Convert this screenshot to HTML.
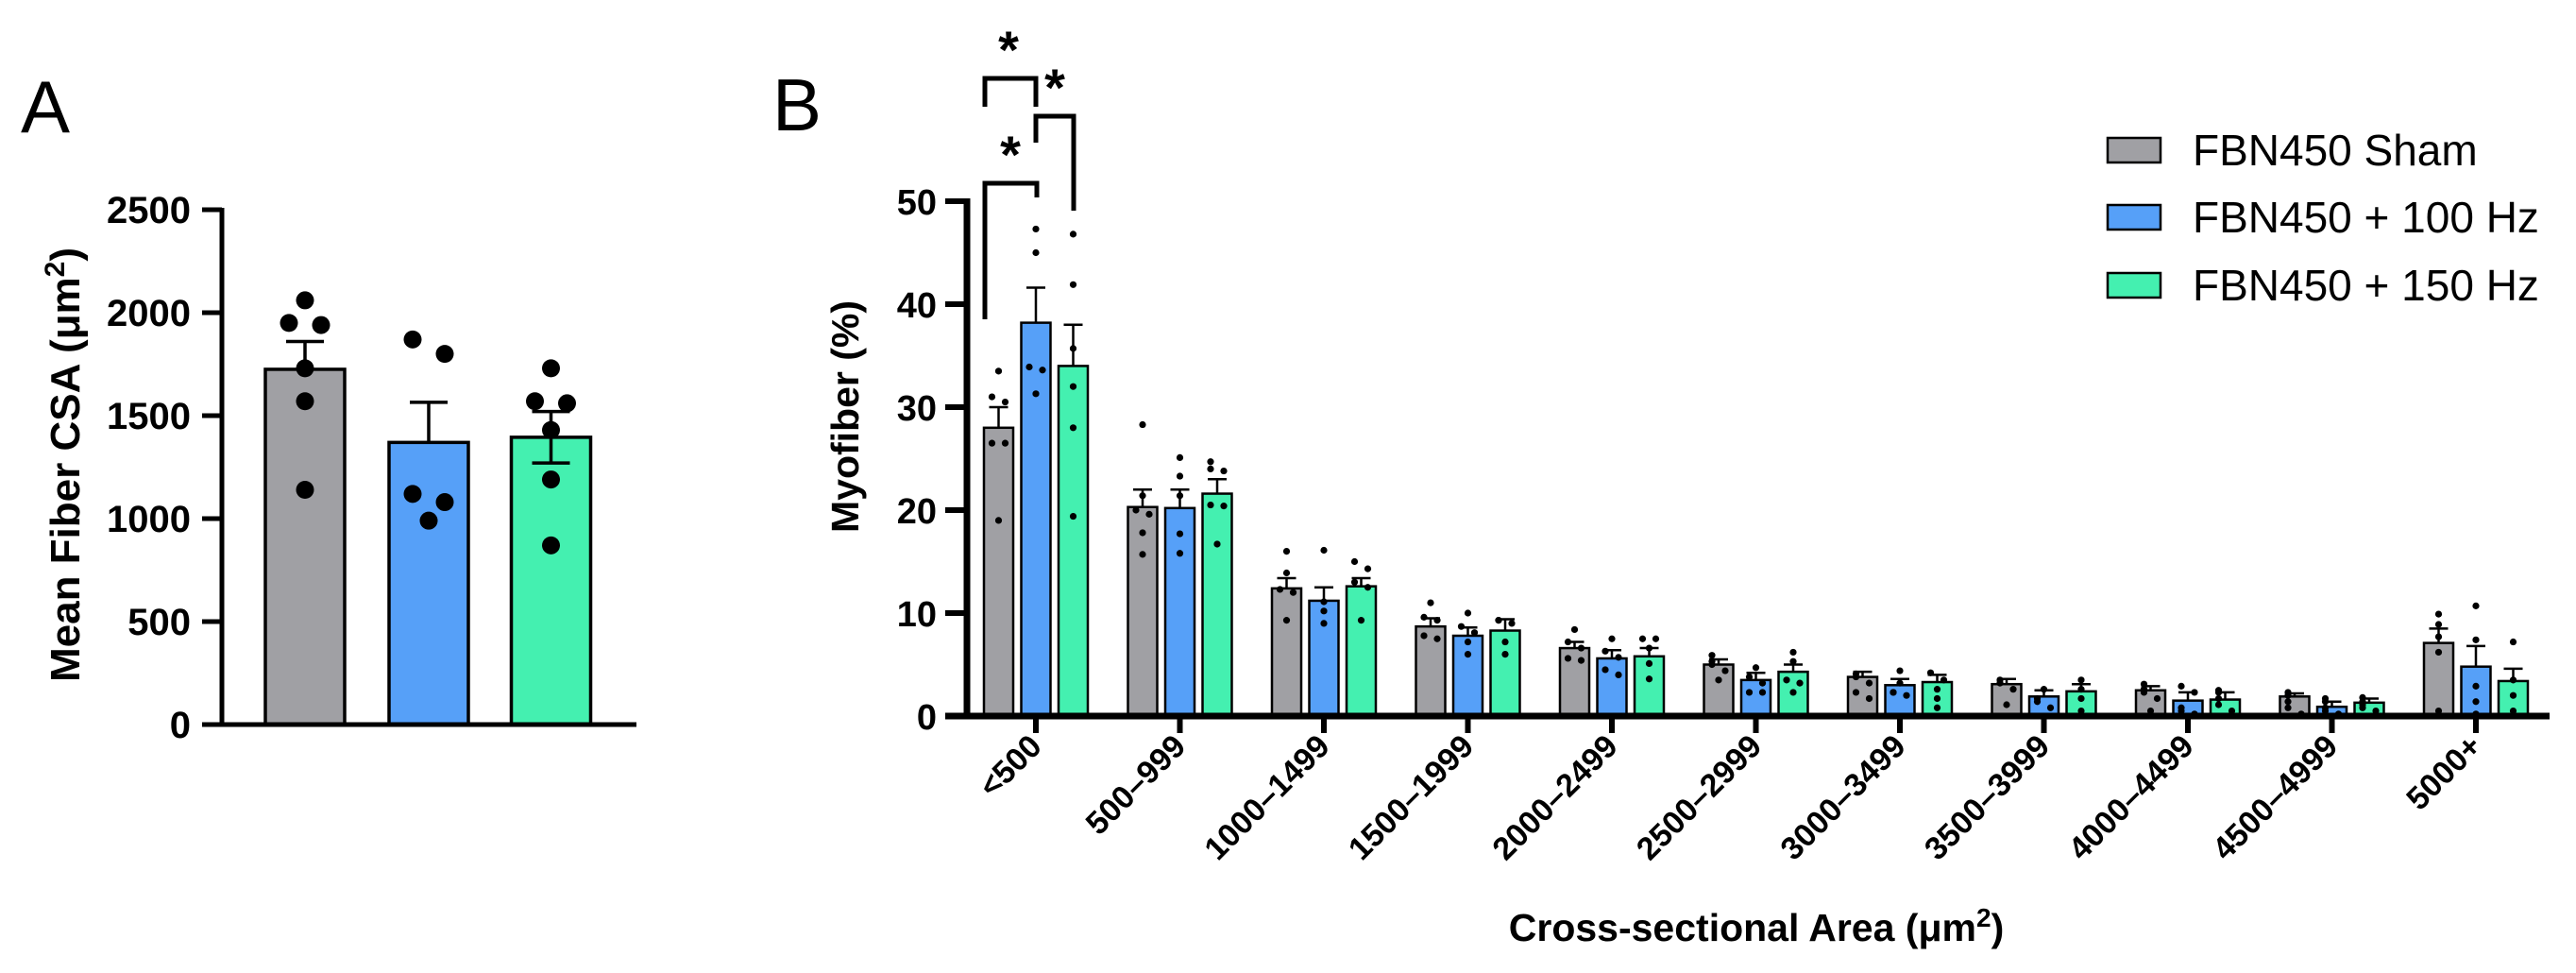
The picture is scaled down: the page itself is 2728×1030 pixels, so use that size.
<!DOCTYPE html>
<html><head><meta charset="utf-8"><style>
html,body{margin:0;padding:0;background:#fff;}
svg{display:block;font-family:"Liberation Sans",Arial,sans-serif;}
</style></head><body>
<svg id="fig" width="2728" height="1030" viewBox="0 0 2728 1030" xmlns="http://www.w3.org/2000/svg">
<text x="22" y="140" font-size="78">A</text>
<text x="818" y="138" font-size="78">B</text>
<g id="pa"></g>
<g id="pb"></g>
</svg>
<script>
// ---- Panel A data ----
const aGroups = ["FBN450 Sham","FBN450 + 100 Hz","FBN450 + 150 Hz"];
const aMeans = [1725, 1370, 1395];
const aErr = [135, 195, 125];
const aDots0 = [2060, 1950, 1940, 1730, 1570, 1140];
const aDots1 = [1870, 1800, 1120, 1080, 990];
const aDots2 = [1730, 1570, 1560, 1430, 1190, 870];
const aTicks = [0, 500, 1000, 1500, 2000, 2500];

// ---- Panel B data ----
const bCats = ["<500","500–999","1000–1499","1500–1999","2000–2499","2500–2999","3000–3499","3500–3999","4000–4499","4500–4999","5000+"];
const bSham = [28, 20.3, 12.4, 8.7, 6.6, 5.0, 3.8, 3.1, 2.5, 1.9, 7.1];
const b100 = [38.2, 20.2, 11.2, 7.8, 5.6, 3.5, 3.0, 1.9, 1.5, 0.9, 4.8];
const b150 = [34, 21.6, 12.6, 8.3, 5.8, 4.3, 3.3, 2.4, 1.6, 1.3, 3.4];
const bShamErr = [30, 22, 13.4, 9.5, 7.2, 5.5, 4.3, 3.6, 2.9, 2.2, 8.5];
const b100Err = [41.6, 22, 12.5, 8.6, 6.4, 4.2, 3.6, 2.5, 2.3, 1.4, 6.8];
const b150Err = [38, 23, 13.4, 9.4, 6.6, 5.0, 4.0, 3.1, 2.3, 1.7, 4.6];
const bShamDots = [[33.5,31,30.5,26.5,26.5,19],[28.3,21.4,20,19.6,17.8,15.7],[16,13.9,12.3,12,9.3],[11,9.6,9.3,7.8,7.5],[8.4,7.2,6.6,5.6,5.4],[5.9,5.3,5,4.4,3.5],[4.1,3.8,3.2,2.3,1.7],[3.5,3.2,2.6,1.1],[3.1,2.6,2.3,1.7,0.5],[2.3,2,1.4,0.8,0.2],[9.9,8.9,7.7,6.2,0.5]];
const b100Dots = [[47.3,45,33.9,33.6,31.3],[25.1,23.3,21.4,17.7,15.8],[16.1,11.1,10.2,9],[10,8.7,8.1,7.2,6],[7.5,6.3,5.7,4.5,4],[4.7,3.8,3.2,2.3,2.3],[4.4,3.2,2.3,2.3,2.0],[2.6,1.7,1.4,0.8],[2.9,2.3,0.8,0.5,0.2],[1.7,1.4,0.8,0.5,0.2],[10.7,7.4,2.9,1.4,0.2]];
const b150Dots = [[46.8,41.9,35.7,32,28,19.4],[24.7,24,23.8,20.5,20.4,16.7],[15,14.3,13,12.5,9.3],[9.3,9.3,9,7.2,6],[7.5,7.5,6.6,5.1,3.6],[6.2,5.3,3.5,3.2,2.3],[4.2,3.5,2.6,1.7,0.8],[3.5,2.6,1.7,0.5],[2.5,2.3,1.7,1.1,0.5],[1.8,1.4,1.1,0.8,0.5],[7.2,3.5,2,0.5]];
const bTicks = [0, 10, 20, 30, 40, 50];
const legendLabels = ["FBN450 Sham","FBN450 + 100 Hz","FBN450 + 150 Hz"];
const colors = ["#a0a0a4","#56a0f8","#44f0b0"];

const NS = "http://www.w3.org/2000/svg";
function mk(parent, tag, attrs, text){
  const e = document.createElementNS(NS, tag);
  for (const k in attrs) e.setAttribute(k, attrs[k]);
  if (text !== undefined) e.textContent = text;
  parent.appendChild(e);
  return e;
}

// ---------- Panel A ----------
(function(){
  const g = document.getElementById('pa');
  const y = v => 767 - v/2500*(767-222);
  const xc = [323, 454, 583.5];
  const bw = 84;
  const allDots = [aDots0, aDots1, aDots2];
  aMeans.forEach((m,i)=>{
    const r = mk(g,'rect',{x:xc[i]-bw/2,y:y(m),width:bw,height:767-y(m),fill:colors[i],stroke:'#000','stroke-width':3.5});
    
    
    const e = mk(g,'path',{d:`M${xc[i]} ${y(m)} V${y(m+aErr[i])} M${xc[i]-20} ${y(m+aErr[i])} H${xc[i]+20}`,stroke:'#000','stroke-width':3.5,fill:'none'});
    
    
    if (i===2){
      const d = mk(g,'path',{d:`M${xc[i]} ${y(m)} V${y(m-aErr[i])} M${xc[i]-20} ${y(m-aErr[i])} H${xc[i]+20}`,stroke:'#000','stroke-width':3.5,fill:'none'});
      
      
    }
    const dots = allDots[i];
    dots.forEach((v,k)=>{
      let off = 0;
      for (let q=0;q<dots.length;q++){ if(q!==k && Math.abs(dots[q]-v)<80){ off = q<k?17:-17; } }
      const c = mk(g,'circle',{cx:xc[i]+off,cy:y(v),r:9.5,fill:'#000'});
      
      
    });
  });
  const ax = mk(g,'path',{d:'M235 220 V767 M214 767 H674',stroke:'#000','stroke-width':5,fill:'none'});
  
  
  aTicks.forEach(t=>{
    const tk = mk(g,'line',{x1:214,x2:235,y1:y(t),y2:y(t),stroke:'#000','stroke-width':5});
    
    
    const tl = mk(g,'text',{x:202,y:y(t)+14,'text-anchor':'end','font-size':40,'font-weight':'bold'},String(t));
    
    
  });
  const tt = mk(g,'text',{x:0,y:0,transform:'translate(84,492) rotate(-90)','text-anchor':'middle','font-size':44,'font-weight':'bold'});
  
  
  tt.innerHTML = 'Mean Fiber CSA (μm<tspan dy="-16" font-size="30">2</tspan><tspan dy="16">)</tspan>';
})();

// ---------- Panel B ----------
(function(){
  const g = document.getElementById('pb');
  const y = v => 758 - v/50*(758-213);
  const x0 = 1097, step = 152.5, bw = 31, off = 39.5;
  const means = [bSham, b100, b150], errs = [bShamErr, b100Err, b150Err], dots = [bShamDots, b100Dots, b150Dots];
  bCats.forEach((cat,ci)=>{
    const cx = x0 + ci*step;
    for (let s=0;s<3;s++){
      const bx = cx + (s-1)*off;
      const m = means[s][ci], e = errs[s][ci];
      const r = mk(g,'rect',{x:bx-bw/2,y:y(m),width:bw,height:758-y(m),fill:colors[s],stroke:'#000','stroke-width':2.5});
      
      
      const eb = mk(g,'path',{d:`M${bx} ${y(m)} V${y(e)} M${bx-10} ${y(e)} H${bx+10}`,stroke:'#000','stroke-width':2.5,fill:'none'});
      
      
      const ds = dots[s][ci];
      ds.forEach((v,k)=>{
        let o = 0;
        for (let q=0;q<ds.length;q++){ if(q!==k && Math.abs(ds[q]-v)<0.8){ o = q<k?7:-7; } }
        const c = mk(g,'circle',{cx:bx+o,cy:y(v),r:3.6,fill:'#000'});
        
        
      });
    }
    const tk = mk(g,'line',{x1:cx,x2:cx,y1:758,y2:776,stroke:'#000','stroke-width':6});
    
    
    const tl = mk(g,'text',{x:0,y:0,transform:`translate(${cx+8},${792}) rotate(-45)`,'text-anchor':'end','font-size':34,'font-weight':'bold'},cat);
    
    
  });
  const ax = mk(g,'path',{d:'M1024 210 V758 M1001 758 H2700',stroke:'#000','stroke-width':7,fill:'none'});
  
  
  bTicks.forEach(t=>{
    const tk = mk(g,'line',{x1:1001,x2:1024,y1:y(t),y2:y(t),stroke:'#000','stroke-width':6});
    
    
    const tl = mk(g,'text',{x:992,y:y(t)+14,'text-anchor':'end','font-size':38,'font-weight':'bold'},String(t));
    
    
  });
  const yt = mk(g,'text',{x:0,y:0,transform:'translate(909,441) rotate(-90)','text-anchor':'middle','font-size':41,'font-weight':'bold'},'Myofiber (%)');
  
  
  const xt = mk(g,'text',{x:1860,y:996,'text-anchor':'middle','font-size':41,'font-weight':'bold'});
  
  
  xt.innerHTML = 'Cross-sectional Area (μm<tspan dy="-15" font-size="28">2</tspan><tspan dy="15">)</tspan>';
  const br = [
    ['M1043 113 V83 H1097 V113', 1068, 72],
    ['M1097 151 V123 H1137 V223', 1117, 112],
    ['M1043 338 V194 H1098 V209', 1070, 183]
  ];
  br.forEach((b,i)=>{
    const p = mk(g,'path',{d:b[0],stroke:'#000','stroke-width':5,fill:'none'});
    
    
    const s = mk(g,'text',{x:b[1],y:b[2],'text-anchor':'middle','font-size':56,'font-weight':'bold'},'*');
    
    
  });
  const ly = [146, 217, 289];
  legendLabels.forEach((l,i)=>{
    const r = mk(g,'rect',{x:2232,y:ly[i],width:56,height:26,fill:colors[i],stroke:'#000','stroke-width':2.5});
    
    
    const t = mk(g,'text',{x:2322,y:ly[i]+29,'font-size':46},l);
    
    
  });
})();
</script>
</body></html>
